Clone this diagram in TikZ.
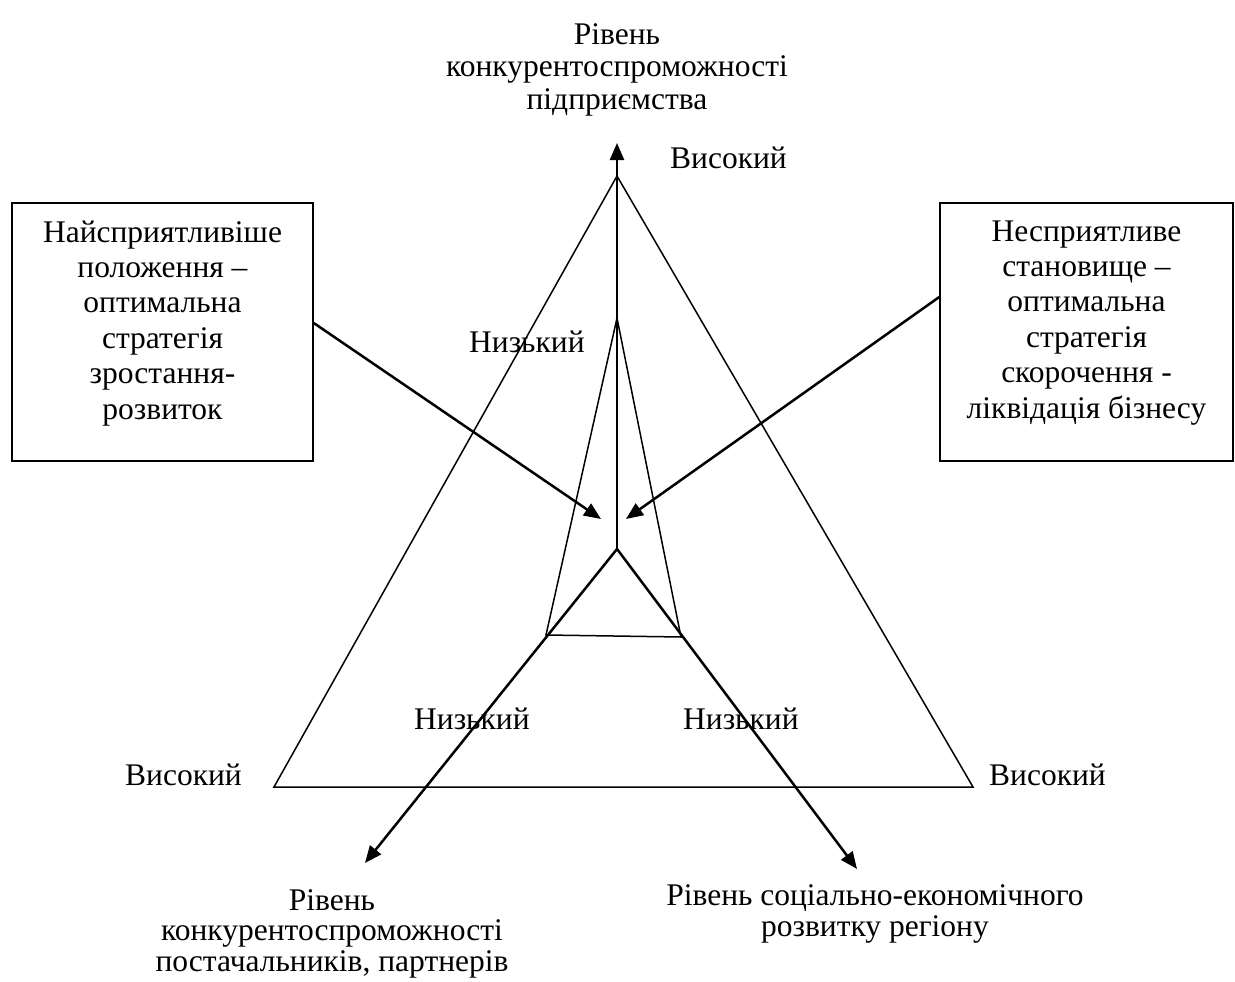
\documentclass[tikz,border=0pt]{standalone}
\usepackage{fontspec}
\setmainfont{Liberation Serif}
\usetikzlibrary{arrows.meta}
\begin{document}
\begin{tikzpicture}[x=1pt,y=-1pt,
  thinline/.style={line width=1.5pt},
  arr/.style={line width=2.5pt,-{Triangle[length=17pt,width=14pt]}},
  lbl/.style={font=\fontsize{31.5}{32}\selectfont,inner sep=0pt},
  mlbl/.style={font=\fontsize{31.5}{32.5}\selectfont,inner sep=0pt,align=center},
  boxtext/.style={font=\fontsize{31.5}{35.4}\selectfont,inner sep=0pt,align=center},
  boxstyle/.style={draw,line width=1.5pt,minimum height=258pt,inner sep=0pt}]
\useasboundingbox (0,0) rectangle (1235,982);
% coordinates
\coordinate (O) at (617,549);
\coordinate (topT) at (617,143);
\coordinate (blT) at (365,863);
\coordinate (brT) at (857,869);
\coordinate (A) at (617,176);
\coordinate (B) at (274,787);
\coordinate (C) at (973,787);
\coordinate (ia) at (617,318);
\coordinate (ib) at (546,635);
\coordinate (ic) at (681,637);
\coordinate (tipL) at (601,519);
\coordinate (tipR) at (626,519);
% outer triangle
\draw[thinline,line join=miter] (A) -- (B) -- (C) -- cycle;
% inner triangle
\draw[thinline] (ia) -- (ib) -- (ic) -- cycle;
% axes
\draw[arr] (O) -- (topT);
\draw[arr] (O) -- (blT);
\draw[arr] (O) -- (brT);
% boxes
\node[boxstyle,minimum width=301pt] (lbox) at (162.5,332) {};
\node[boxstyle,minimum width=293pt] (rbox) at (1086.5,332) {};
\node[boxtext,anchor=north] (ltext) at ([yshift=-18pt]lbox.north) {Найсприятливіше\\положення –\\оптимальна\\стратегія\\зростання-\\розвиток};
\node[boxtext,anchor=north] (rtext) at ([yshift=-18pt]rbox.north) {Несприятливе\\становище –\\оптимальна\\стратегія\\скорочення -\\ліквідація бізнесу};
\draw[arr] ([yshift=9pt]lbox.east) -- (tipL);
\draw[arr] ([yshift=35pt]rbox.west) -- (tipR);
% labels
\node[mlbl,anchor=north] (title) at (617,23) {Рівень\\конкурентоспроможності\\підприємства};
\node[lbl,anchor=base west] (hiTop) at (670,168) {Високий};
\node[lbl,anchor=base west] (loTop) at (469,352) {Низький};
\node[lbl,anchor=base west] (loL) at (414,729) {Низький};
\node[lbl,anchor=base west] (loR) at (683,729) {Низький};
\node[lbl,anchor=base west] (hiL) at (125,785) {Високий};
\node[lbl,anchor=base west] (hiR) at (989,785) {Високий};
\node[mlbl,anchor=north,font=\fontsize{31.5}{30.5}\selectfont] (blTitle) at (332,889) {Рівень\\конкурентоспроможності\\постачальників, партнерів};
\node[mlbl,anchor=north,font=\fontsize{31.5}{31}\selectfont] (brTitle) at (875,884) {Рівень соціально-економічного\\розвитку регіону};
\end{tikzpicture}
\end{document}
